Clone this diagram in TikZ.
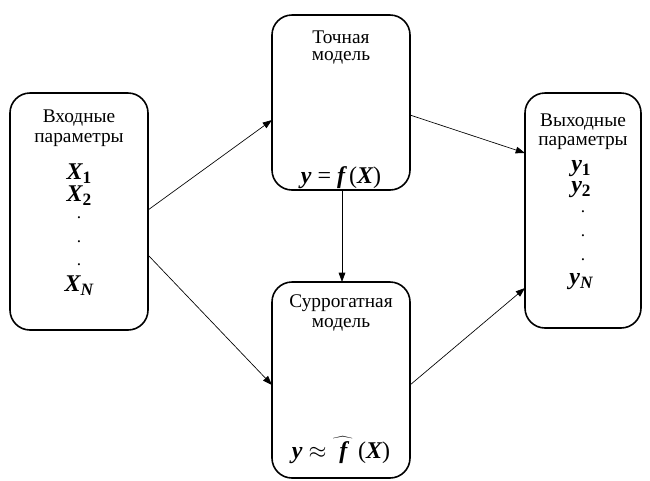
\documentclass[tikz,border=0pt]{standalone}
\usepackage{fontspec}
\setmainfont{Liberation Serif}
\usetikzlibrary{arrows.meta}
\newcommand{\bi}[1]{{\bfseries\itshape #1}}
\newcommand{\sbs}[1]{\raisebox{-0.35ex}{\fontsize{13}{13}\selectfont\bfseries #1}}
\begin{document}
\begin{tikzpicture}[x=0.75pt,y=-0.75pt,
  box/.style={draw,line width=1.2pt,rounded corners=15pt},
  lbl/.style={font=\fontsize{14.5}{16}\selectfont,inner sep=0pt,anchor=center},
  mth/.style={font=\fontsize{18}{18}\selectfont,inner sep=0pt,anchor=center},
  dt/.style={font=\fontsize{13}{13}\selectfont,inner sep=0pt,anchor=base},
  conn/.style={line width=0.5pt,-{Triangle[length=7pt,width=5pt]}}]
\useasboundingbox (0,0) rectangle (650,480);
% boxes
\draw[box] (10,93) rectangle (148,330);
\draw[box] (272,15) rectangle (410,190);
\draw[box] (272,282) rectangle (410,478);
\draw[box] (525,93) rectangle (641,328);
% left box text
\node[lbl] (l1) at (79,118) {Входные};
\node[lbl] (l2) at (79,140) {параметры};
\node[mth] (lx1) at (79,174) {\bi{X}\sbs{1}};
\node[mth] (lx2) at (79,196) {\bi{X}\sbs{2}};
\node[dt] (ld1) at (79,218) {.};
\node[dt] (ld2) at (79,242) {.};
\node[dt] (ld3) at (79,265) {.};
\node[mth] (lxn) at (79,286) {\bi{X}\sbs{\itshape N}};
% top box
\node[lbl] (t1) at (341,37) {Точная};
\node[lbl] (t2) at (341,58) {модель};
\node[mth] (tf) at (341,178) {\bi{y} = \bi{f}\,(\bi{X})};
% bottom box
\node[lbl] (b1) at (341,303) {Суррогатная};
\node[lbl] (b2) at (341,325) {модель};
\node[mth] (bf) at (341,450) {\bi{y} $\approx$ $\widehat{\hbox to 0.9em{\hss\bi{f}\hss}}$\,(\bi{X})};
% right box
\node[lbl] (r1) at (583,122) {Выходные};
\node[lbl] (r2) at (583,143) {параметры};
\node[mth] (ry1) at (581,169) {\bi{y}\sbs{1}};
\node[mth] (ry2) at (581,190) {\bi{y}\sbs{2}};
\node[dt] (rd1) at (583,212) {.};
\node[dt] (rd2) at (583,236) {.};
\node[dt] (rd3) at (583,260) {.};
\node[mth] (ryn) at (581,282) {\bi{y}\sbs{\itshape N}};
% connector endpoints on box borders
\coordinate (La) at (148,210);
\coordinate (Lb) at (148,255);
\coordinate (Ta) at (272,120);
\coordinate (Tr) at (410,115);
\coordinate (Tb) at (342,190);
\coordinate (Bt) at (342,282);
\coordinate (Bl) at (272,385);
\coordinate (Br) at (410,385);
\coordinate (Ra) at (525,153);
\coordinate (Rb) at (525,288);
\draw[conn] (La) -- (Ta);
\draw[conn] (Lb) -- (Bl);
\draw[conn] (Tr) -- (Ra);
\draw[conn] (Br) -- (Rb);
\draw[conn] (Tb) -- (Bt);
\end{tikzpicture}
\end{document}
